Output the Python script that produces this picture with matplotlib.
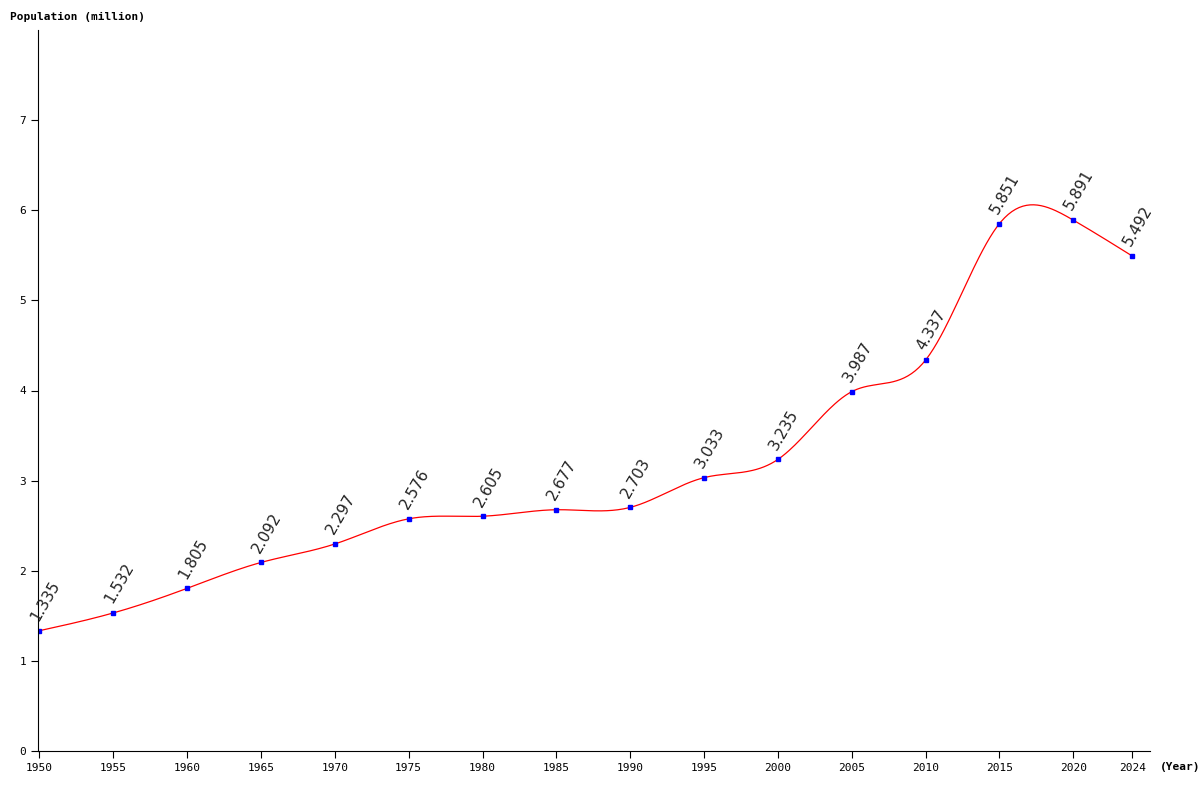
import numpy as np
import matplotlib
matplotlib.use("Agg")
import matplotlib.pyplot as plt

years = [1950,1955,1960,1965,1970,1975,1980,1985,1990,1995,2000,2005,2010,2015,2020,2024]
pop = [1.335,1.532,1.805,2.092,2.297,2.576,2.605,2.677,2.703,3.033,3.235,3.987,4.337,5.851,5.891,5.492]
xticks = [1950,1955,1960,1965,1970,1975,1980,1985,1990,1995,2000,2005,2010,2015,2020,2024]
yticks = [0,1,2,3,4,5,6,7]

def natural_spline(x, y, xs):
    x = np.asarray(x, float); y = np.asarray(y, float)
    n = len(x); h = np.diff(x)
    A = np.zeros((n, n)); b = np.zeros(n)
    A[0,0] = A[-1,-1] = 1
    for i in range(1, n-1):
        A[i,i-1] = h[i-1]; A[i,i] = 2*(h[i-1]+h[i]); A[i,i+1] = h[i]
        b[i] = 3*((y[i+1]-y[i])/h[i] - (y[i]-y[i-1])/h[i-1])
    c = np.linalg.solve(A, b)
    out = np.empty_like(xs)
    for k, xv in enumerate(xs):
        i = min(max(np.searchsorted(x, xv) - 1, 0), n-2)
        dx = xv - x[i]
        bi = (y[i+1]-y[i])/h[i] - h[i]*(2*c[i]+c[i+1])/3
        di = (c[i+1]-c[i])/(3*h[i])
        out[k] = y[i] + bi*dx + c[i]*dx**2 + di*dx**3
    return out

fig = plt.figure(figsize=(12, 8), dpi=100)
ax = fig.add_axes([38/1200, 1-751/800, (1150-38)/1200, (751-30)/800])
xs = np.linspace(years[0], years[-1], 600)
ax.plot(xs, natural_spline(years, pop, xs), color="red", lw=0.9)
ax.plot(years, pop, "s", color="blue", ms=3.5)
for x, y in zip(years, pop):
    ax.text(x + 0.1, y + 0.08, f"{y:.3f}", rotation=60, ha="left", va="bottom",
            fontsize=11, color="#222222", rotation_mode="anchor")

ax.set_xlim(1949.9, 2025.2)
ax.set_ylim(0, 8)
ax.set_xticks(xticks)
ax.set_yticks(yticks)
mono = {"family": "DejaVu Sans Mono", "size": 8}
ax.set_xticklabels([str(t) for t in xticks], fontdict=mono)
ax.set_yticklabels([str(t) for t in yticks], fontdict=mono)
ax.tick_params(length=5, width=0.8)
for s in ["top", "right"]:
    ax.spines[s].set_visible(False)
fig.text(10/1200, 1-17/800, "Population (million)", fontsize=8, family="DejaVu Sans Mono",
         weight="bold", va="center")
fig.text(1160/1200, 1-767/800, "(Year)", fontsize=8, family="DejaVu Sans Mono",
         weight="bold", va="center")
fig.savefig("out.png", dpi=100)
